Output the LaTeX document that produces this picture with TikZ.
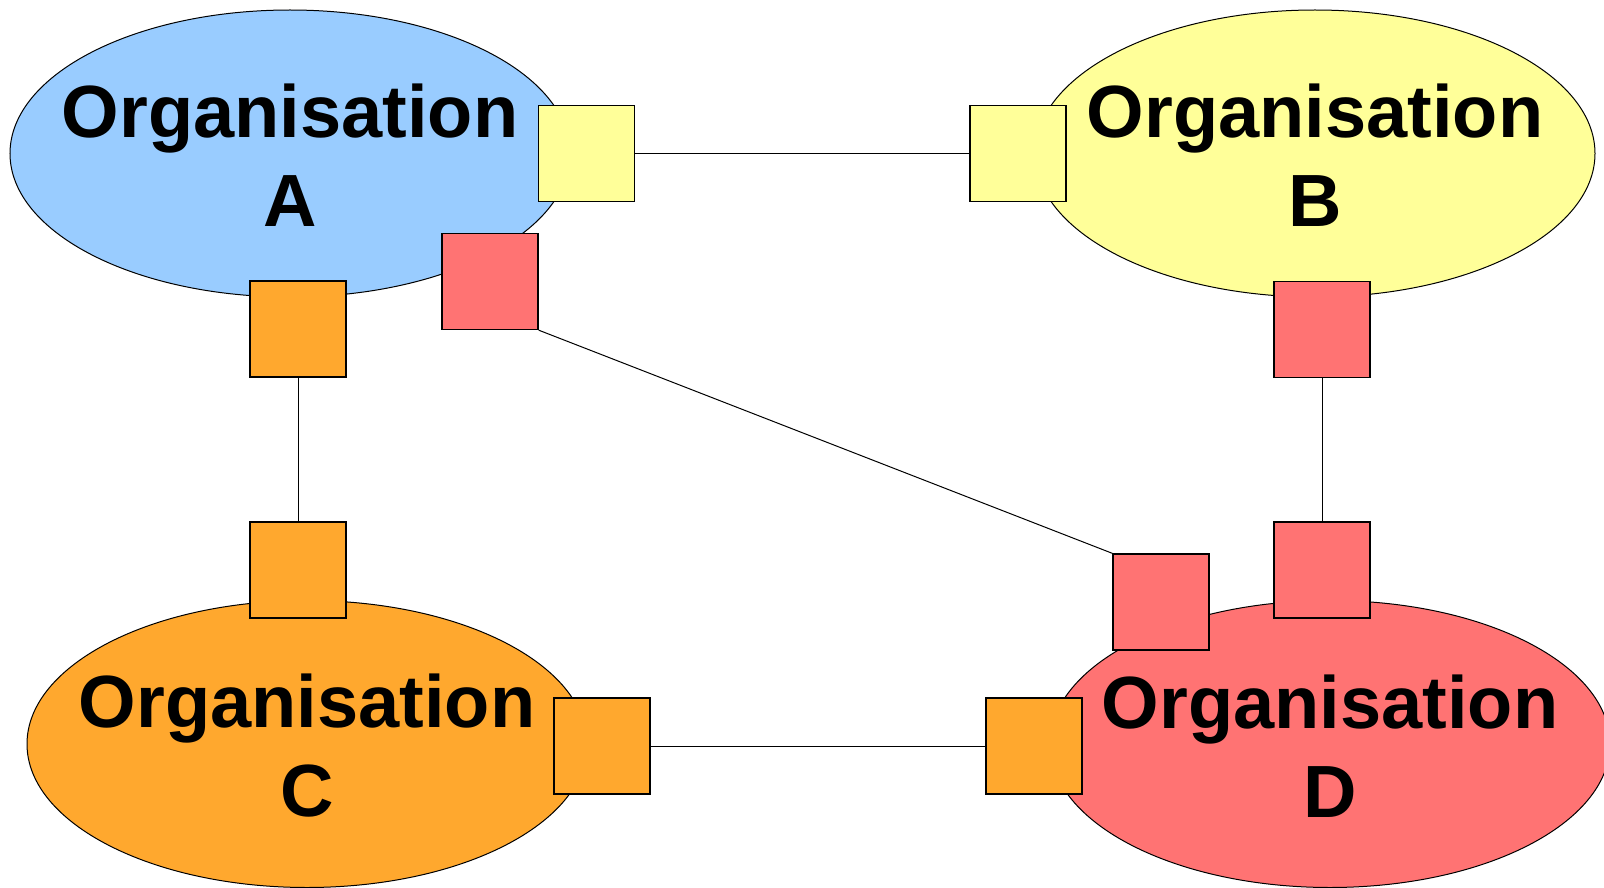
\documentclass[tikz,border=0pt]{standalone}
\usepackage{fontspec}
\setmainfont{Liberation Sans}
\usetikzlibrary{shapes.geometric}
\definecolor{orgblue}{RGB}{153,204,255}
\definecolor{orgyellow}{RGB}{255,255,153}
\definecolor{orgorange}{RGB}{255,168,46}
\definecolor{orgred}{RGB}{255,115,115}

\begin{document}
\begin{tikzpicture}[x=1pt,y=-1pt,
  org/.style={ellipse, draw, line width=1pt, minimum width=560pt, minimum height=287pt, inner sep=0pt},
  orglabel/.style={align=center, font=\fontsize{74}{89}\selectfont\bfseries, inner sep=0pt},
  port/.style={draw, line width=1.3pt, minimum size=96pt, inner sep=0pt},
  link/.style={line width=1pt}]
\useasboundingbox (0,0) rectangle (1604,888);
\clip (0,0) rectangle (1604,888);

% organisations
\node[org, fill=orgblue]   (A) at (290,153.5) {};
\node[org, fill=orgyellow] (B) at (1315,153.5) {};
\node[org, fill=orgorange] (C) at (307,744) {};
\node[org, fill=orgred]    (D) at (1330,744) {};

\node[orglabel] (lA) at ([yshift=-2pt]A.center) {Organisation\\A};
\node[orglabel] (lB) at ([yshift=-2pt]B.center) {Organisation\\B};
\node[orglabel] (lC) at ([yshift=-2pt]C.center) {Organisation\\C};
\node[orglabel] (lD) at ([yshift=-2pt]D.center) {Organisation\\D};

% interface ports
\node[port, fill=orgyellow] (ay) at (586.5,153.5) {};
\node[port, fill=orgyellow] (by) at (1018,153.5) {};
\node[port, fill=orgred]    (ar) at (490,281.5) {};
\node[port, fill=orgorange] (ao) at (298,329) {};
\node[port, fill=orgred]    (br) at (1322,329.5) {};
\node[port, fill=orgorange] (co) at (298,570) {};
\node[port, fill=orgorange] (cd) at (602,746) {};
\node[port, fill=orgred]    (dl) at (1161,602) {};
\node[port, fill=orgred]    (dt) at (1322,570) {};
\node[port, fill=orgorange] (do) at (1034,746) {};

% links between ports
\draw[link] (ay) -- (by);
\draw[link] (ao) -- (co);
\draw[link] (br) -- (dt);
\draw[link] (cd) -- (do);
\draw[link] (ar.south east) -- (dl.north west);
\end{tikzpicture}
\end{document}
